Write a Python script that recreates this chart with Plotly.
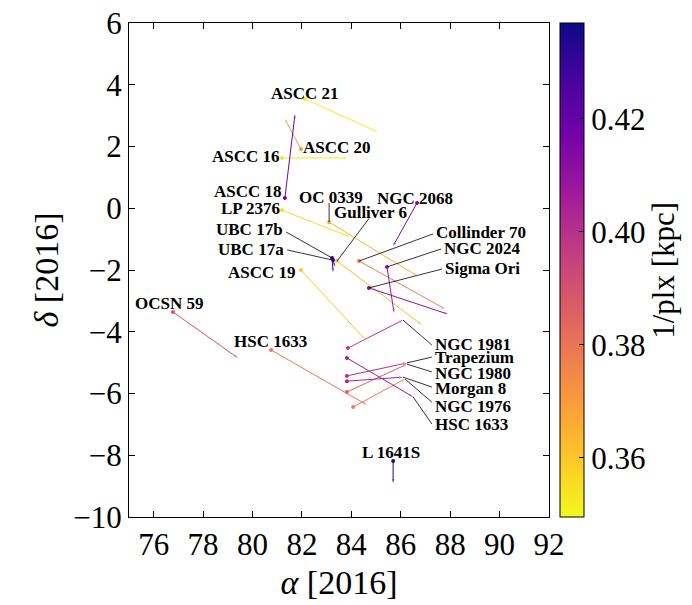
import plotly.graph_objects as go
from plotly.colors import sample_colorscale
import plotly.express as px

# ---- data ----
names = ["ASCC 21", "ASCC 20", "ASCC 16", "ASCC 18", "LP 2376", "OC 0339", "Gulliver 6",
         "UBC 17b", "UBC 17a", "NGC 2068", "Collinder 70", "NGC 2024", "Sigma Ori",
         "ASCC 19", "OCSN 59", "HSC 1633", "NGC 1981", "Trapezium", "NGC 1980",
         "Morgan 8", "NGC 1976", "HSC 1633", "L 1641S"]
ra_start = [82.12, 81.96, 81.19, 81.31, 81.19, 83.10, 83.42,
            83.22, 83.26, 86.66, 84.31, 85.44, 84.71,
            81.96, 76.78, 80.75, 83.86, 83.82, 83.82,
            83.82, 84.07, 83.82, 85.69]
dec_start = [3.54, 1.92, 1.63, 0.33, -0.06, -0.45, -1.71,
             -1.61, -1.68, 0.17, -1.71, -1.90, -2.58,
             -2.00, -3.36, -4.59, -4.53, -5.43, -5.95,
             -5.60, -6.44, -4.85, -8.19]
ra_end = [85.08, 81.31, 83.86, 81.72, 83.95, 86.66, 86.86,
          83.26, 83.34, 85.69, 87.79, 85.73, 87.91,
          84.55, 79.41, 84.63, 86.09, 86.25, 86.25,
          86.09, 86.17, 86.50, 85.69]
dec_end = [2.47, 2.89, 1.63, 3.05, -0.93, -2.19, -3.78,
           -2.07, -1.90, -1.22, -3.26, -3.39, -3.43,
           -4.24, -4.85, -6.37, -3.62, -5.01, -5.05,
           -5.47, -5.53, -6.11, -8.90]
dist_kpc = [0.352, 0.370, 0.353, 0.418, 0.355, 0.365, 0.362,
            0.430, 0.428, 0.415, 0.378, 0.408, 0.412,
            0.360, 0.390, 0.380, 0.398, 0.400, 0.385,
            0.403, 0.378, 0.405, 0.435]

x_ticks = [76, 78, 80, 82, 84, 86, 88, 90, 92]
y_ticks = [-10, -8, -6, -4, -2, 0, 2, 4, 6]
cb_ticks = [0.36, 0.38, 0.40, 0.42]
CMIN, CMAX = 0.3495, 0.437

# ---- label placement (annotation layout) ----
# (x, y, xanchor, connector_from(x,y) or None, connector_to(x,y) or None)
label_layout = [
    (82.12, 3.73, "center", None, None),
    (83.42, 1.98, "center", None, None),
    (79.74, 1.69, "center", None, None),
    (79.82, 0.53, "center", None, None),
    (79.90, -0.02, "center", None, None),
    (83.18, 0.36, "center", (83.10, 0.17), (83.10, -0.45)),
    (84.76, -0.15, "center", (84.76, -0.28), (83.42, -1.71)),
    (81.31, -0.70, "right", (81.36, -0.77), (83.22, -1.61)),
    (81.36, -1.35, "right", (81.40, -1.35), (83.26, -1.68)),
    (86.58, 0.33, "center", None, None),
    (87.35, -0.77, "left", (87.31, -0.83), (84.31, -1.71)),
    (87.67, -1.29, "left", (87.63, -1.32), (85.44, -1.90)),
    (87.71, -1.94, "left", (87.67, -1.97), (84.71, -2.58)),
    (80.38, -2.07, "center", None, None),
    (76.62, -3.10, "center", None, None),
    (80.71, -4.33, "center", None, None),
    (87.31, -4.40, "left", (87.26, -4.43), (86.09, -3.62)),
    (87.31, -4.85, "left", (87.26, -4.82), (86.25, -5.01)),
    (87.31, -5.34, "left", (87.26, -5.30), (86.25, -5.05)),
    (87.31, -5.85, "left", (87.26, -5.79), (86.09, -5.47)),
    (87.31, -6.41, "left", (87.26, -6.28), (86.17, -5.53)),
    (87.31, -6.99, "left", (87.26, -6.99), (86.50, -6.11)),
    (85.61, -7.90, "center", None, None),
]

SERIF = "Liberation Serif, Times New Roman, serif"
scale = px.colors.sequential.Plasma_r
norm = [(d - CMIN) / (CMAX - CMIN) for d in dist_kpc]
line_colors = sample_colorscale(scale, [min(max(v, 0), 1) for v in norm])

fig = go.Figure()

for i in range(len(names)):
    fig.add_trace(go.Scatter(
        x=[ra_start[i], ra_end[i]], y=[dec_start[i], dec_end[i]],
        mode="lines+markers",
        line=dict(color=line_colors[i], width=1),
        marker=dict(symbol=["circle", "arrow"], size=[0, 4], color=line_colors[i],
                    angleref="previous", line=dict(width=0)),
        showlegend=False, hoverinfo="skip"))

fig.add_trace(go.Scatter(
    x=ra_start, y=dec_start, mode="markers",
    marker=dict(size=4, color=dist_kpc, coloraxis="coloraxis", line=dict(width=0)),
    text=names, showlegend=False))

shapes = []
annotations = []
for name, (lx, ly, anc, cfrom, cto) in zip(names, label_layout):
    annotations.append(dict(x=lx, y=ly, xref="x", yref="y", text="<b>%s</b>" % name,
                            showarrow=False, xanchor=anc, yanchor="middle",
                            font=dict(family=SERIF, size=17, color="black")))
    if cfrom is not None:
        shapes.append(dict(type="line", xref="x", yref="y", x0=cfrom[0], y0=cfrom[1],
                           x1=cto[0], y1=cto[1], line=dict(color="black", width=0.8),
                           layer="above"))

# colorbar title as a rotated annotation
annotations.append(dict(x=1.271, y=0.5, xref="paper", yref="paper", text="1/plx [kpc]",
                        textangle=-90, showarrow=False, xanchor="center", yanchor="middle",
                        font=dict(family=SERIF, size=31, color="black")))

axis_common = dict(showline=True, linecolor="black", linewidth=1, mirror="ticks",
                   ticks="inside", ticklen=6, tickcolor="black", showgrid=False,
                   zeroline=False, automargin=False,
                   tickfont=dict(family=SERIF, size=31, color="black"))

fig.update_layout(
    width=692, height=605,
    margin=dict(l=129, r=143, t=23, b=88, autoexpand=False),
    paper_bgcolor="white", plot_bgcolor="white",
    xaxis=dict(range=[75, 92], tickvals=x_ticks,
               title=dict(text="<i>α</i> [2016]", font=dict(family=SERIF, size=34, color="black"),
                          standoff=8),
               **axis_common),
    yaxis=dict(range=[-10, 6], tickvals=y_ticks,
               title=dict(text="<i>δ</i> [2016]", font=dict(family=SERIF, size=34, color="black"),
                          standoff=4),
               **axis_common),
    coloraxis=dict(
        colorscale="Plasma_r", cmin=CMIN, cmax=CMAX,
        colorbar=dict(
            thickness=24, len=1, lenmode="fraction", y=0.5, yanchor="middle",
            x=1.026, xanchor="left", xpad=0, ypad=0,
            outlinewidth=1, outlinecolor="black",
            ticks="inside", ticklen=5, tickcolor="black",
            tickvals=cb_ticks, ticktext=["%.2f" % t for t in cb_ticks],
            tickfont=dict(family=SERIF, size=31, color="black"))),
    shapes=shapes, annotations=annotations,
    font=dict(family=SERIF, color="black"),
)

fig.write_html("out.html")
